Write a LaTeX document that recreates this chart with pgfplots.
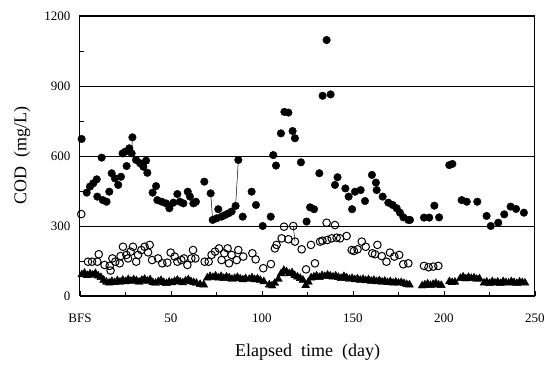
\documentclass[border=0pt]{standalone}
\usepackage{pgfplots}
\pgfplotsset{compat=1.18}
\usepackage{fontspec}
\setmainfont{Liberation Serif}
\begin{document}
\begin{tikzpicture}
\useasboundingbox (-80pt,-70pt) rectangle (475pt,296pt);
\begin{axis}[
  at={(0,0)}, anchor=south west,
  scale only axis, width=455pt, height=280pt,
  xmin=0, xmax=250, ymin=0, ymax=1200,
  xtick={0,50,100,150,200,250},
  xticklabels={BFS,50,100,150,200,250},
  minor xtick={25,75,125,175,225},
  ytick={0,300,600,900,1200},
  minor ytick={150,450,750,1050},
  ymajorgrids, grid style={black, line width=0.8pt},
  tick align=inside, tick pos=left,
  major tick length=5pt, minor tick length=4pt,
  every tick/.style={black, line width=0.7pt},
  axis line style={line width=1pt},
  /pgf/number format/assume math mode=true,
  /pgf/number format/1000 sep={},
  ticklabel style={font=\fontsize{13}{15}\selectfont},
  xticklabel style={yshift=-14pt},
  yticklabel style={xshift=-6pt},
  xlabel={Elapsed\ \ time\ \ (day)},
  ylabel={COD\ \ (mg/L)},
  label style={font=\fontsize{18}{21}\selectfont},
  xlabel style={at={(axis description cs:0.5,0)}, anchor=center, yshift=-56pt},
  ylabel style={at={(axis description cs:0,0.5)}, anchor=center, yshift=58pt},
  clip=false,
]
% connecting lines
\addplot[black, line width=0.5pt] coordinates {(71.8,440)(72.9,326)};
\addplot[black, line width=0.5pt] coordinates {(85.5,386)(87,583)};
\addplot[black, line width=0.5pt] coordinates {(28.8,680)(28.4,611)};
\addplot[black, line width=0.5pt] coordinates {(117.2,300)(118.1,233)};
% triangles
\addplot[only marks, mark=triangle*, mark size=4.6pt, black] coordinates {
(1,92)(2.5,98)(4,88)(5.5,95)(7,90)(8.5,97)(10,86)(11.5,80)(13,68)(14.5,60)(16,56)(17.5,63)(19,58)(20.5,66)(22,60)(23.5,68)(25,62)(26.5,71)(28,64)(29.5,70)(31,66)(32.5,60)(34,68)(35.5,72)(37,64)(38.5,70)(40,58)(41.5,55)(43,62)(44.5,67)(46,58)(47.5,54)(49,60)(50.5,57)(52,63)(53.5,68)(55,61)(56.5,57)(58,65)(59.5,70)(61,62)(62.5,58)(64,55)(66,50)(68,48)
(70,78)(71.5,84)(73,80)(74.5,86)(76,78)(77.5,84)(79,76)(80.5,82)(82,78)(83.5,72)(85,76)(86.5,80)(88,74)(89.5,70)(91,75)(93,72)(94.5,78)(96,70)(97.5,74)(99,68)(101,62)(104,48)(105.5,44)(107,55)(109,72)(110.5,96)(112,110)(113.5,104)(115,96)(116.5,100)(118,88)(119.5,82)(121,76)(122.5,68)(124,45)(125.5,60)(127,78)(128.5,82)(130,86)(131.5,80)(133,88)(134.5,84)(136,90)(137.5,86)(139,82)(140.5,86)(142,80)(143.5,76)(145,84)(146.5,78)(148,72)(149.5,76)(151,70)(152.5,74)(154,68)(155.5,72)(157,66)(158.5,70)(160,64)(161.5,68)(163,62)(164.5,66)(166,60)(167.5,64)(169,58)(170.5,62)(172,56)(173.5,60)(175,56)(176.5,58)(178,54)(179.5,50)(181,48)
(188,44)(189.5,48)(191,52)(192.5,46)(194,50)(195.5,54)(197,48)(198.5,46)(203,62)(204.5,58)(206,60)(209,76)(210.5,82)(212,74)(213.5,80)(215,76)(216.5,78)(218,72)(219.5,74)(222,56)(223.5,60)(225,54)(226.5,62)(228,56)(229.5,60)(231,54)(232.5,62)(234,58)(235.5,56)(237,62)(238.5,58)(240,54)(241.5,60)(243,58)(244.5,56)
};
% open circles
\addplot[only marks, mark=o, mark size=3.8pt, black, mark options={line width=1pt, fill=white}] coordinates {
(0.7,351)(4.4,147)(6.6,147)(9.5,147)(10.3,179)(13.5,133)(16.3,129)(16.8,109)(17.8,161)(19.4,147)(21.8,140)(22.3,171)(23.6,211)(25.5,176)(26.4,161)(27.8,190)(29.1,211)(30.9,147)(31.9,176)(33.7,197)(35.5,211)(37.4,187)(38.3,219)(39.6,154)(42.9,161)(45.2,140)(48,143)(49.8,186)(52,169)(53.5,147)(55.7,154)(57.1,161)(59,133)(61.2,161)(62.1,197)(63.4,161)(68.5,147)(70.7,147)(72.3,176)(74.2,190)(76.4,204)(77.8,154)(79.3,183)(81.1,204)(81.9,140)(83.3,176)(86.1,154)(87,197)(89.7,169)(94.7,183)(96.5,157)(100.7,119)(104.9,137)(107.1,204)(108,219)(110.8,247)(112.1,297)(114.5,243)(117.2,300)(118.1,233)(121.8,200)(124.2,114)(126.9,219)(129.1,140)(131.9,233)(133.2,237)(135.5,314)(135.9,240)(138.3,247)(140.1,304)(141,250)(142.9,247)(146.5,257)(149.3,197)(150.5,193)(152.5,200)(154.8,233)(157,211)(160.6,183)(162.1,179)(163.4,219)(165.8,171)(168.4,147)(170.3,186)(172.7,169)(175.4,176)(177.6,136)(180.4,140)(189,129)(191.5,123)(194.1,126)(196.9,129)
};
% filled circles
\addplot[only marks, mark=*, mark size=3.8pt, black] coordinates {
(0.9,673)(3.7,443)(5.5,469)(7.3,483)(9.2,500)(9.5,426)(11.9,593)(12.5,411)(14.6,404)(16.1,447)(17.4,526)(19.2,504)(21,476)(22.5,511)(23.4,611)(24.7,618)(25.6,557)(27.1,633)(28.8,680)(28.4,611)(30.8,583)(33,569)(34.8,554)(36.3,580)(37,528)(39.9,443)(41.8,471)(42.5,411)(44.9,404)(47.3,397)(49.1,376)(51.3,400)(53.5,437)(54.9,404)(56.8,397)(59.2,447)(60.4,426)(62.3,397)(63.7,404)(68.3,490)(71.8,440)(72.9,326)(75.1,333)(76,372)(77.8,340)(79.7,347)(81.5,354)(83.3,362)(85.5,386)(87,583)(89.4,340)(94.3,447)(96.7,390)(100.4,300)(104.8,340)(106.2,604)(107.7,559)(110.4,697)(112.3,789)(114.5,786)(116.8,707)(118.1,676)(121.4,573)(124.5,319)(126.4,380)(128.6,372)(131.5,526)(133.3,858)(135.5,1097)(137.7,864)(140.1,476)(141.5,509)(145.8,461)(147.6,426)(149.5,372)(151.1,447)(154.2,454)(156.6,407)(160.4,519)(162.6,486)(163,454)(166.3,426)(169.4,400)(171.8,390)(174,376)(175.8,357)(177.7,337)(180.4,326)(181.3,326)(189,336)(191.9,336)(194.7,387)(197.3,337)(202.9,561)(204.6,566)(209.7,411)(212.5,404)(218.3,404)(223.4,343)(225.7,300)(229.8,314)(233.1,350)(236.6,383)(239.6,373)(243.9,357)
};
\end{axis}
\end{tikzpicture}
\end{document}
